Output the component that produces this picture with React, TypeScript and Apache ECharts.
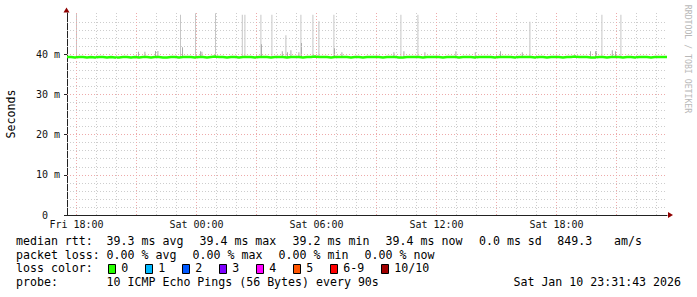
import React, { useEffect, useRef } from 'react';
import * as echarts from 'echarts';

// ---- data (hours since Fri 00:00, milliseconds) ----
const medianStart = 17.525;
const medianStep = 0.2;
const medianValues = [
  39.3, 39.2, 39.3, 39.3, 39.2, 39.3, 39.2, 39.3, 39.3, 39.2,
  39.3, 39.2, 39.2, 39.3, 39.3, 39.2, 39.3, 39.2, 39.3, 39.3,
  39.2, 39.3, 39.3, 39.2, 39.2, 39.3, 39.3, 39.2, 39.3, 39.3,
  39.3, 39.2, 39.3, 39.3, 39.2, 39.3, 39.4, 39.3, 39.3, 39.2,
  39.3, 39.3, 39.2, 39.3, 39.3, 39.3, 39.2, 39.3, 39.3, 39.3,
  39.2, 39.3, 39.3, 39.3, 39.2, 39.3, 39.3, 39.3, 39.2, 39.3,
  39.3, 39.4, 39.3, 39.3, 39.3, 39.2, 39.3, 39.3, 39.3, 39.3,
  39.2, 39.3, 39.3, 39.2, 39.3, 39.3, 39.3, 39.3, 39.2, 39.3,
  39.3, 39.3, 39.2, 39.2, 39.3, 39.3, 39.3, 39.3, 39.2, 39.3,
  39.3, 39.3, 39.3, 39.2, 39.3, 39.3, 39.3, 39.2, 39.3, 39.3,
  39.3, 39.2, 39.3, 39.3, 39.3, 39.3, 39.2, 39.3, 39.3, 39.3,
  39.3, 39.2, 39.3, 39.3, 39.3, 39.3, 39.2, 39.3, 39.3, 39.2,
  39.3, 39.3, 39.3, 39.2, 39.3, 39.3, 39.4, 39.3, 39.3, 39.3,
  39.2, 39.2, 39.3, 39.3, 39.2, 39.3, 39.3, 39.3, 39.2, 39.3,
  39.3, 39.2, 39.3, 39.3, 39.3, 39.2, 39.3, 39.3, 39.3, 39.3,
  39.4,
];
const smokeBase = 39.3;
// tall smoke spikes: [time, top]
const tallSpikes = [
  [18.0, 50.2], [23.2, 49.8], [23.95, 50.2], [24.95, 50.2], [26.29, 49.8],
  [26.42, 49.8], [27.22, 49.8], [27.77, 49.8], [29.22, 49.8], [29.82, 49.8],
  [30.87, 49.8], [34.22, 49.8], [35.07, 49.8], [44.27, 49.8], [45.22, 49.8],
];
// medium smoke spikes: [time, top]
const midSpikes = [
  [28.47, 44.7], [30.12, 48.2], [40.67, 48.1],
];
// darker smoke near the median: [time, top]
const darkSmoke = [
  [23.3, 41.7], [27.25, 42.5], [29.25, 42.8], [30.9, 41.5],
  [21.1, 40.6], [21.42, 40.6], [21.95, 40.8], [22.07, 40.8], [24.2, 40.75],
  [24.27, 40.6], [28.29, 40.75], [28.55, 40.5], [28.72, 41.0], [29.12, 40.5],
  [31.27, 40.5], [33.87, 40.5], [34.37, 40.75], [35.42, 40.5], [36.97, 40.75],
  [37.94, 40.5], [39.2, 40.75], [40.29, 40.5], [43.7, 40.75], [43.95, 40.75],
  [44.0, 40.75], [44.79, 41.0], [44.95, 40.75],
];

const xMin = 17.525;
const xMax = 47.525;
const yMax = 50.25;
const yTickValues = [0, 10, 20, 30, 40];
const xTickValues = [18, 24, 30, 36, 42];
const xTickLabels = ['Fri 18:00', 'Sat 00:00', 'Sat 06:00', 'Sat 12:00', 'Sat 18:00'];
const hGridMinor = [2, 4, 6, 8, 12, 14, 16, 18, 22, 24, 26, 28, 32, 34, 36, 38, 42, 44, 46, 48];
const hGridMajor = [10, 20, 30, 40];
const vGridHours = [18, 19, 20, 21, 22, 23, 24, 25, 26, 27, 28, 29, 30, 31, 32, 33, 34, 35, 36, 37, 38, 39, 40, 41, 42, 43, 44, 45, 46, 47];

const lossLabels = ['0', '1', '2', '3', '4', '5', '6-9', '10/10'];
const lossColors = ['#26ff00', '#00b8ff', '#0059ff', '#7e00ff', '#ff00ff', '#ff5500', '#ff0000', '#a10000'];

const legendRtt = [
  ['median rtt:', 16], ['39.3 ms avg', 106.6], ['39.4 ms max', 199.5], ['39.2 ms min', 292.6],
  ['39.4 ms now', 385.6], ['0.0 ms sd', 479], ['849.3', 557.3], ['am/s', 614],
];
const legendLoss = [
  ['packet loss:', 16], ['0.00 % avg', 106.6], ['0.00 % max', 192.6], ['0.00 % min', 278.6], ['0.00 % now', 364.6],
];
const legendProbe = [
  ['probe:', 16], ['10 ICMP Echo Pings (56 Bytes) every 90s', 106.6],
];
const lossTitle = 'loss color:';
const timestamp = 'Sat Jan 10 23:31:43 2026';
const yAxisTitle = 'Seconds';
const watermark = 'RRDTOOL / TOBI OETIKER';

const MONO = '"DejaVu Sans Mono", monospace';
const LEG_FS = 11.6;
const AX_FS = 10;
const smokeColors = ['#c6c6c6', '#c0c0c0', '#adadad'];

export default function App() {
  const ref = useRef<HTMLDivElement>(null);

  useEffect(() => {
    const chart = echarts.init(ref.current!, null, { renderer: 'svg' });

    const medianData = medianValues.map((v, i) => [medianStart + i * medianStep, v]);
    const smokeData = [
      ...tallSpikes.map(([t, h]) => [t, smokeBase, h, 0]),
      ...midSpikes.map(([t, h]) => [t, smokeBase, h, 1]),
      ...darkSmoke.map(([t, h]) => [t, smokeBase, h, 2]),
    ];

    const minorStyle = { color: '#cdcdcd', type: [1, 2] as any, width: 1 };
    const majorStyle = { color: '#eeaaaa', type: [1, 2] as any, width: 1 };
    const gridLines: any[] = [];
    hGridMinor.forEach((v) => gridLines.push({ yAxis: v, lineStyle: minorStyle }));
    vGridHours.forEach((h) =>
      gridLines.push({ xAxis: h, lineStyle: h % 3 === 0 ? majorStyle : minorStyle })
    );
    hGridMajor.forEach((v) => gridLines.push({ yAxis: v, lineStyle: majorStyle }));

    const textStyle = (text: string, x: number, y: number, extra: any = {}) => ({
      type: 'text',
      x,
      y,
      silent: true,
      style: {
        text,
        fill: '#000',
        font: `${LEG_FS}px ${MONO}`,
        align: 'left',
        verticalAlign: 'middle',
        ...extra,
      },
    });

    const graphics: any[] = [];
    legendRtt.forEach(([t, x]) => graphics.push(textStyle(t as string, x as number, 241)));
    legendLoss.forEach(([t, x]) => graphics.push(textStyle(t as string, x as number, 254.7)));
    graphics.push(textStyle(lossTitle, 16, 268.4));
    let bx = 108;
    lossLabels.forEach((lab, i) => {
      graphics.push({
        type: 'rect',
        silent: true,
        shape: { x: bx + 0.5, y: 264.5, width: 7, height: 9 },
        style: { fill: lossColors[i], stroke: '#000', lineWidth: 1 },
      });
      graphics.push(textStyle(lab, bx + 13.3, 268.4));
      bx += 30 + 7 * lab.length;
    });
    legendProbe.forEach(([t, x]) => graphics.push(textStyle(t as string, x as number, 282.1)));
    graphics.push(textStyle(timestamp, 681, 282.1, { align: 'right' }));
    graphics.push({
      type: 'text',
      x: 11,
      y: 114,
      rotation: Math.PI / 2,
      silent: true,
      style: { text: yAxisTitle, fill: '#000', font: `${LEG_FS}px ${MONO}`, align: 'center', verticalAlign: 'middle' },
    });
    graphics.push({
      type: 'text',
      x: 688,
      y: 59,
      rotation: -Math.PI / 2,
      silent: true,
      style: { text: watermark, fill: '#b8b8b8', font: `8.2px ${MONO}`, align: 'center', verticalAlign: 'middle' },
    });
    // axis arrows
    graphics.push({
      type: 'polygon',
      silent: true,
      shape: { points: [[63.5, 12.5], [66.5, 7.5], [69.5, 12.5]] },
      style: { fill: '#8f0000' },
    });
    graphics.push({
      type: 'polygon',
      silent: true,
      shape: { points: [[668, 212], [673, 215], [668, 218]] },
      style: { fill: '#8f0000' },
    });

    chart.setOption({
      animation: false,
      backgroundColor: '#ffffff',
      grid: { left: 67, top: 13, width: 600, height: 202, containLabel: false },
      xAxis: {
        type: 'value',
        min: xMin,
        max: xMax,
        axisLine: { show: true, onZero: false, lineStyle: { color: '#222', width: 1 } },
        axisTick: { show: false },
        splitLine: { show: false },
        axisLabel: {
          customValues: xTickValues,
          margin: 4,
          color: '#111',
          fontFamily: MONO,
          fontSize: AX_FS,
          formatter: (v: number) => {
            const i = xTickValues.findIndex((x) => Math.abs(x - v) < 1e-6);
            return i >= 0 ? xTickLabels[i] : '';
          },
        },
      },
      yAxis: {
        type: 'value',
        min: 0,
        max: yMax,
        interval: 10,
        axisLine: { show: true, lineStyle: { color: '#222', width: 1 } },
        axisTick: { show: true, length: 3, customValues: yTickValues, lineStyle: { color: '#222' } },
        splitLine: { show: false },
        axisLabel: {
          customValues: yTickValues,
          margin: 7,
          color: '#111',
          fontFamily: MONO,
          fontSize: AX_FS,
          formatter: (v: number) => (v > 40 ? '' : v === 0 ? '{z|0}' : `${v} m`),
          rich: { z: { fontFamily: MONO, fontSize: AX_FS, color: '#111', padding: [0, 12, 0, 0] } },
        },
      },
      series: [
        {
          type: 'line',
          data: [],
          z: 1,
          silent: true,
          markLine: {
            silent: true,
            symbol: ['none', 'none'],
            label: { show: false },
            emphasis: { disabled: true },
            data: gridLines,
          },
        },
        {
          type: 'custom',
          z: 2,
          silent: true,
          data: smokeData,
          encode: { x: 0, y: 2 },
          renderItem: (params: any, api: any) => {
            const t = api.value(0);
            const lo = api.value(1);
            const hi = api.value(2);
            const k = api.value(3);
            const top = api.coord([t, hi]);
            const bot = api.coord([t, lo]);
            return {
              type: 'rect',
              shape: { x: top[0] - 0.5, y: top[1], width: 1, height: bot[1] - top[1] },
              style: { fill: smokeColors[k] },
            };
          },
        },
        {
          type: 'line',
          z: 3,
          silent: true,
          data: medianData,
          symbol: 'none',
          step: 'end',
          lineStyle: { color: '#26ff00', width: 2.5 },
        },
      ],
      graphic: graphics,
    });

    return () => chart.dispose();
  }, []);

  return (
    <div
      ref={ref}
      style={{ position: 'absolute', left: 0, top: 0, width: 697, height: 297, background: '#fff' }}
    />
  );
}
